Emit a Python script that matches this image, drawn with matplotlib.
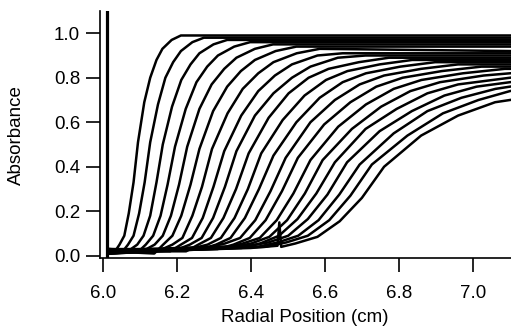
import matplotlib
matplotlib.use("Agg")
import matplotlib.pyplot as plt

plt.rcParams['font.family'] = ['Liberation Sans', 'DejaVu Sans']

# absorbance scans (radial position in cm, absorbance)
x01 = [6.018, 6.033, 6.045, 6.058, 6.070, 6.083, 6.095, 6.112, 6.128, 6.145, 6.161, 6.186, 6.211, 7.10]
y01 = [0.015, 0.02, 0.05, 0.09, 0.19, 0.33, 0.51, 0.69, 0.80, 0.88, 0.93, 0.97, 0.99, 0.99]
x02 = [6.018, 6.054, 6.068, 6.083, 6.098, 6.113, 6.128, 6.149, 6.169, 6.190, 6.211, 6.242, 6.273, 7.10]
y02 = [0.025, 0.02, 0.05, 0.09, 0.19, 0.33, 0.51, 0.68, 0.80, 0.87, 0.92, 0.96, 0.98, 0.98]
x03 = [6.018, 6.076, 6.093, 6.110, 6.128, 6.145, 6.162, 6.187, 6.212, 6.237, 6.261, 6.299, 6.336, 7.10]
y03 = [0.010, 0.03, 0.05, 0.09, 0.18, 0.33, 0.50, 0.67, 0.79, 0.86, 0.91, 0.95, 0.97, 0.97]
x04 = [6.018, 6.097, 6.116, 6.136, 6.156, 6.175, 6.195, 6.224, 6.253, 6.282, 6.311, 6.355, 6.398, 7.10]
y04 = [0.030, 0.02, 0.05, 0.09, 0.18, 0.32, 0.49, 0.66, 0.78, 0.85, 0.90, 0.94, 0.96, 0.96]
x05 = [6.018, 6.118, 6.140, 6.162, 6.184, 6.206, 6.228, 6.261, 6.294, 6.328, 6.361, 6.411, 6.460, 7.10]
y05 = [0.015, 0.03, 0.05, 0.09, 0.18, 0.32, 0.49, 0.66, 0.77, 0.84, 0.89, 0.93, 0.95, 0.95]
x06 = [6.018, 6.139, 6.163, 6.188, 6.212, 6.237, 6.261, 6.298, 6.336, 6.373, 6.411, 6.467, 6.523, 7.10]
y06 = [0.020, 0.01, 0.05, 0.09, 0.18, 0.32, 0.48, 0.65, 0.76, 0.83, 0.88, 0.92, 0.94, 0.94]
x07 = [6.018, 6.161, 6.188, 6.215, 6.242, 6.268, 6.295, 6.337, 6.378, 6.420, 6.461, 6.524, 6.586, 7.10]
y07 = [0.010, 0.03, 0.05, 0.08, 0.18, 0.31, 0.48, 0.64, 0.75, 0.82, 0.87, 0.91, 0.93, 0.92]
x08 = [6.018, 6.182, 6.211, 6.241, 6.270, 6.299, 6.328, 6.374, 6.420, 6.465, 6.511, 6.580, 6.648, 7.10]
y08 = [0.030, 0.02, 0.05, 0.08, 0.17, 0.31, 0.47, 0.63, 0.74, 0.81, 0.86, 0.90, 0.91, 0.91]
x09 = [6.018, 6.204, 6.235, 6.267, 6.298, 6.330, 6.361, 6.411, 6.461, 6.511, 6.561, 6.635, 6.710, 7.10]
y09 = [0.015, 0.03, 0.05, 0.08, 0.17, 0.31, 0.47, 0.63, 0.73, 0.80, 0.85, 0.89, 0.90, 0.90]
x10 = [6.018, 6.225, 6.258, 6.292, 6.326, 6.360, 6.394, 6.448, 6.502, 6.556, 6.610, 6.692, 6.773, 7.10]
y10 = [0.020, 0.02, 0.05, 0.08, 0.17, 0.30, 0.46, 0.62, 0.73, 0.80, 0.84, 0.87, 0.89, 0.89]
x11 = [6.018, 6.247, 6.283, 6.319, 6.356, 6.392, 6.428, 6.486, 6.545, 6.603, 6.661, 6.748, 6.836, 7.10]
y11 = [0.010, 0.035, 0.05, 0.08, 0.17, 0.30, 0.46, 0.61, 0.72, 0.79, 0.83, 0.86, 0.88, 0.88]
x12 = [6.018, 6.268, 6.306, 6.345, 6.384, 6.422, 6.461, 6.523, 6.586, 6.648, 6.711, 6.804, 6.898, 7.10]
y12 = [0.025, 0.03, 0.05, 0.08, 0.17, 0.30, 0.45, 0.60, 0.71, 0.78, 0.82, 0.85, 0.87, 0.87]
x13 = [6.018, 6.289, 6.330, 6.371, 6.412, 6.453, 6.494, 6.561, 6.627, 6.694, 6.760, 6.860, 6.960, 7.10]
y13 = [0.015, 0.04, 0.055, 0.08, 0.16, 0.29, 0.44, 0.60, 0.70, 0.77, 0.81, 0.84, 0.86, 0.86]
x14 = [6.018, 6.310, 6.353, 6.397, 6.440, 6.484, 6.527, 6.598, 6.669, 6.739, 6.810, 6.916, 7.023, 7.10]
y14 = [0.030, 0.03, 0.05, 0.08, 0.16, 0.29, 0.44, 0.59, 0.69, 0.76, 0.80, 0.83, 0.85, 0.85]
x15 = [6.018, 6.332, 6.378, 6.424, 6.470, 6.515, 6.561, 6.636, 6.711, 6.786, 6.861, 6.973, 7.086, 7.10]
y15 = [0.010, 0.035, 0.055, 0.08, 0.16, 0.28, 0.43, 0.58, 0.68, 0.75, 0.79, 0.82, 0.84, 0.84]
x16 = [6.018, 6.353, 6.401, 6.450, 6.498, 6.546, 6.594, 6.673, 6.752, 6.831, 6.911, 7.029, 7.10]
y16 = [0.020, 0.04, 0.055, 0.085, 0.16, 0.28, 0.43, 0.57, 0.67, 0.74, 0.78, 0.81, 0.82]
x17 = [6.018, 6.375, 6.425, 6.476, 6.526, 6.577, 6.627, 6.710, 6.794, 6.877, 6.960, 7.10]
y17 = [0.015, 0.035, 0.055, 0.09, 0.165, 0.28, 0.42, 0.57, 0.66, 0.73, 0.77, 0.80]
x18 = [6.018, 6.396, 6.448, 6.501, 6.554, 6.607, 6.660, 6.748, 6.835, 6.923, 7.010, 7.10]
y18 = [0.025, 0.045, 0.06, 0.09, 0.165, 0.275, 0.42, 0.56, 0.65, 0.72, 0.76, 0.78]
x19 = [6.018, 6.418, 6.473, 6.528, 6.583, 6.639, 6.694, 6.786, 6.877, 6.969, 7.061, 7.10]
y19 = [0.010, 0.04, 0.06, 0.09, 0.16, 0.275, 0.41, 0.55, 0.65, 0.71, 0.75, 0.76]
x20 = [6.018, 6.439, 6.496, 6.554, 6.612, 6.669, 6.727, 6.823, 6.919, 7.015, 7.10]
y20 = [0.020, 0.04, 0.06, 0.09, 0.16, 0.27, 0.41, 0.54, 0.64, 0.70, 0.74]
x21 = [6.018, 6.400, 6.472, 6.477, 6.482, 6.520, 6.580, 6.640, 6.700, 6.760, 6.860, 6.960, 7.060, 7.10]
y21 = [0.015, 0.035, 0.045, 0.15, 0.04, 0.055, 0.085, 0.155, 0.26, 0.40, 0.54, 0.63, 0.69, 0.70]

# meniscus spike
meniscus_x = [6.0115, 6.0115]
meniscus_y = [0.0, 1.2]

xticks = [6.0, 6.2, 6.4, 6.6, 6.8, 7.0]
yticks = [0.0, 0.2, 0.4, 0.6, 0.8, 1.0]

scans = [(x01, y01), (x02, y02), (x03, y03), (x04, y04), (x05, y05),
         (x06, y06), (x07, y07), (x08, y08), (x09, y09), (x10, y10),
         (x11, y11), (x12, y12), (x13, y13), (x14, y14), (x15, y15),
         (x16, y16), (x17, y17), (x18, y18), (x19, y19), (x20, y20),
         (x21, y21)]

fig = plt.figure(figsize=(5.11, 3.29), dpi=100)
ax = fig.add_axes([99.5 / 511, 70.8 / 329, 411.5 / 511, 247.2 / 329])

for xs, ys in scans:
    ax.plot(xs, ys, color='black', lw=1.8, solid_joinstyle='round')
ax.plot(meniscus_x, meniscus_y, color='black', lw=2.3)

ax.set_xlim(5.991, 7.103)
ax.set_ylim(-0.011, 1.100)

ax.spines['top'].set_visible(False)
ax.spines['right'].set_visible(False)
for s in ('left', 'bottom'):
    ax.spines[s].set_linewidth(1.2)

ax.set_xticks(xticks)
ax.set_xticklabels(['%.1f' % v for v in xticks])
ax.set_yticks(yticks)
ax.set_yticklabels(['%.1f' % v for v in yticks])
ax.tick_params(axis='both', direction='out', length=10, width=1.2, labelsize=13.5)
ax.tick_params(axis='x', pad=9)
ax.tick_params(axis='y', pad=4)

fig.text(305 / 511, 1 - 318 / 329, 'Radial Position (cm)', ha='center', va='center', fontsize=13.5)
fig.text(16 / 511, 1 - 135 / 329, 'Absorbance', ha='center', va='center', rotation=90, fontsize=13.5)

fig.savefig('out.png', dpi=100)
